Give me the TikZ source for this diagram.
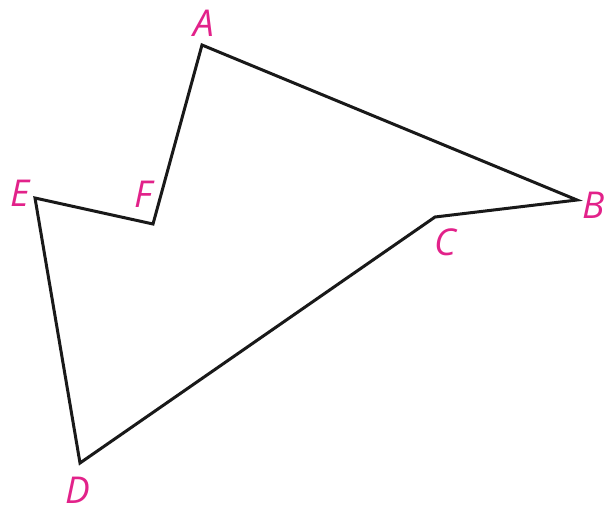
\documentclass[tikz,border=0pt]{standalone}
\usepackage{fontspec}
\newfontfamily\lblfont{Open Sans}
\definecolor{lblmag}{RGB}{226,34,138}
\begin{document}
\begin{tikzpicture}[x=1pt,y=-1pt,
  edge/.style={line width=3pt,line join=miter,black!90},
  lbl/.style={text=lblmag,font=\lblfont\itshape\fontsize{37}{39}\selectfont,inner sep=0pt}]
\useasboundingbox (0,0) rectangle (609,515);
\coordinate (A) at (202,45);
\coordinate (B) at (577,200);
\coordinate (C) at (435,217);
\coordinate (D) at (80,463);
\coordinate (E) at (35,198);
\coordinate (F) at (153,224);
\draw[edge] (A) -- (B) -- (C) -- (D) -- (E) -- (F) -- cycle;
\node[lbl] (lA) at (204,23) {A};
\node[lbl] (lB) at (594,205) {B};
\node[lbl] (lC) at (445,242) {C};
\node[lbl] (lD) at (78,490) {D};
\node[lbl] (lE) at (20,193) {E};
\node[lbl] (lF) at (143,194) {F};
\end{tikzpicture}
\end{document}
